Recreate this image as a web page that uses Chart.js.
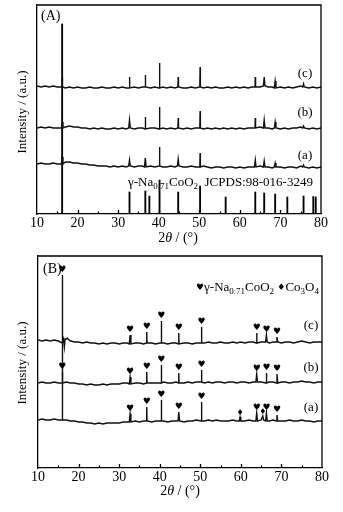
<!DOCTYPE html>
<html><head><meta charset="utf-8">
<script src="https://cdn.jsdelivr.net/npm/chart.js@4"></script>
<style>
html,body{margin:0;padding:0;background:#fff;}
#wrap{position:relative;width:343px;height:512px;overflow:hidden;background:#fff;}
canvas{position:absolute;left:0;}
#ca{top:0;}
#cb{top:248px;}
</style></head><body>
<div id="wrap"><canvas id="ca" width="343" height="248"></canvas><canvas id="cb" width="343" height="264"></canvas></div>
<script>
// ---------- shared x samples (2θ, degrees) ----------
const xSamples = [10,11,12,13,14,15,16,17,18,19,20,21,22,23,24,25,26,27,28,29,30,31,32,33,34,35,36,37,38,39,40,41,42,43,44,45,46,47,48,49,50,51,52,53,54,55,56,57,58,59,60,61,62,63,64,65,66,67,68,69,70,71,72,73,74,75,76,77,78,79,80];
const xTickLabels = [10,20,30,40,50,60,70,80];

// ---------- Panel (A) ----------
const baseAc = [128,127,128,127,128,127,127,126,127,126, 127,126,126,127,126,126,127,126,126,127, 126,127,126,126,127,126,127,127,126,127, 126,127,126,127,126,127,126,126,127,126, 127,126,127,126,127,126,126,127,126,127, 126,127,126,127,127,127,128,127,127,126, 127,126,127,126,127,128,127,126,127,126, 127];
const baseAb = [86,87,86,87,86,86,86,87,88,87, 87,86,86,85,86,85,86,85,85,86, 85,86,85,86,85,86,86,85,86,86, 85,86,85,86,85,86,85,86,85,86, 86,85,86,85,86,85,86,85,86,85, 86,85,86,86,86,87,86,86,85,86, 85,86,85,86,86,87,86,85,86,85, 86];
const baseAa = [50,51,50,50,51,50,50,52,52,51, 51,50,50,49,49,48,48,48,47,48, 47,48,47,48,47,48,48,47,48,47, 48,47,47,48,47,48,47,47,48,47, 47,48,47,46,47,47,46,47,47,46, 47,46,47,47,47,48,47,47,46,47, 47,46,47,47,46,48,47,46,47,46, 47];
const peakPosA = [16.2, 32.8, 36.7, 40.2, 44.8, 50.2, 63.8, 66.0, 68.7, 75.7];
const peakTopAc = [137, 137, 139, 151, 137, 147, 137, 137, 133, 130];
const peakTopAb = [92, 94, 97, 107, 96, 103, 96, 94, 92, 88];
const peakTopAa = [57, 54, 56, 67, 55, 61, 54, 53, 51, 49];
// reference pattern γ-Na0.71CoO2 (JCPDS 98-016-3249)
const stickPos = [16.2, 32.8, 36.7, 37.7, 40.2, 44.8, 50.2, 56.5, 63.8, 66.0, 68.7, 71.7, 75.7, 78.1, 78.7];
const stickH   = [190, 22, 23, 18, 34, 22, 28, 17, 22, 21, 20, 17, 18, 17.5, 17];

// ---------- Panel (B) ----------
const baseBc = [128,127,128,127,128,127,125,129,127,126, 126,125,126,125,125,124,125,124,125,125, 124,125,125,124,125,125,124,125,125,124, 125,125,124,125,125,124,125,125,124,125, 125,125,126,125,125,126,125,125,126,125, 126,125,126,126,125,126,126,125,126,126, 125,126,126,125,126,127,126,125,126,126, 126];
const baseBb = [85,86,85,85,86,85,85,86,85,85, 84,84,83,84,83,83,84,83,84,84, 84,85,85,84,85,85,84,85,85,85, 85,86,85,85,86,85,85,86,85,86, 86,85,86,85,86,86,85,86,86,85, 86,86,85,86,86,86,85,86,86,85, 86,86,85,86,86,87,86,86,85,86, 86];
const baseBa = [48,49,48,48,49,48,48,48,47,47, 46,46,45,45,44,45,44,45,45,45, 45,46,46,46,47,46,47,47,46,47, 47,47,46,47,47,47,46,47,47,48, 47,47,48,47,48,47,47,47,48,47, 47,47,48,47,47,48,47,47,48,47, 47,47,48,47,47,48,47,47,46,47, 47];
const peakPosBc = [16.5, 17.2, 32.7, 36.8, 40.4, 44.7, 50.3, 63.9, 66.3, 68.9];
const peakTopBc = [121, 130, 133, 136, 147, 135, 141, 135, 133, 131];
const phaseBc   = ['', '', 'h','h','h','h','h','h','h','h'];
const peakPosBb = [16.0, 32.7, 36.8, 40.4, 44.7, 50.3, 63.9, 66.3, 68.9];
const peakTopBb = [96, 91, 96, 103, 95, 98, 94, 95, 94];
const phaseBb   = ['h','h','h','h','h','h','h','h','h'];
const peakPosBa = [16.0, 32.7, 36.8, 40.4, 44.7, 50.3, 59.8, 63.9, 65.4, 66.3, 68.9];
const peakTopBa = [193, 54, 61, 68, 56, 66, 51, 55, 52, 55, 53];
const phaseBa   = ['h','h','h','h','h','h','d','h','d','h','h'];

const SERIF = '"Liberation Serif", "Times New Roman", serif';

function buildTrace(base, pos, top){
  const pts = [];
  xSamples.forEach((x,i)=>{ if(!pos.some(p=>Math.abs(p-x)<0.35)) pts.push({x:x, y:base[i]}); });
  pos.forEach((p,k)=>{
    const foot = base[Math.round(p)-10];
    const h = Math.abs(top[k]-foot) < 10 ? 0.2 : 0.07;
    pts.push({x:p-h, y:foot},{x:p, y:top[k]},{x:p+h, y:foot});
  });
  pts.sort((a,b)=>a.x-b.x);
  return pts;
}

function rich(ctx, parts, x, y, size, draw){
  let cx = x;
  parts.forEach(([t,k])=>{
    let f = size+'px '+SERIF, dy = 0;
    if(k==='sub'){ f = Math.round(size*0.68)+'px '+SERIF; dy = size*0.3; }
    if(k==='i'){ f = 'italic '+size+'px '+SERIF; }
    if(k==='sym'){ f = Math.round(size*0.72)+'px "DejaVu Sans"'; }
    ctx.font = f;
    if(draw) ctx.fillText(t, cx, y+dy);
    cx += ctx.measureText(t).width;
  });
  return cx - x;
}
function richCenter(ctx, parts, cx, y, size){
  const w = rich(ctx, parts, 0, 0, size, false);
  rich(ctx, parts, cx - w/2, y, size, true);
}

function frame(chart){
  const {ctx, chartArea:a, scales:{x}} = chart;
  ctx.save();
  ctx.strokeStyle = '#000'; ctx.lineWidth = 1.3;
  ctx.beginPath();
  ctx.moveTo(a.left, a.top); ctx.lineTo(a.right, a.top); ctx.lineTo(a.right, a.bottom);
  for(let v=15; v<80; v+=5){
    const px = Math.round(x.getPixelForValue(v)) + 0.5;
    const len = (v%10===0) ? 4 : 2.5;
    ctx.moveTo(px, a.bottom); ctx.lineTo(px, a.bottom - len);
  }
  ctx.stroke();
  ctx.restore();
}

function axisTexts(chart, yTitleCy, xTitleCx, xTitleY){
  const ctx = chart.ctx;
  ctx.save();
  ctx.fillStyle = '#000'; ctx.textBaseline = 'middle';
  richCenter(ctx, [['2','n'],['θ','i'],[' / (°)','n']], xTitleCx, xTitleY, 14);
  ctx.translate(23, yTitleCy); ctx.rotate(-Math.PI/2);
  ctx.font = '13px '+SERIF; ctx.textAlign = 'center';
  ctx.fillText('Intensity / (a.u.)', 0, 0);
  ctx.restore();
}

function makeChart(id, datasets, ymax, padTop, padRight, axisW, axisH, deco){
  return new Chart(document.getElementById(id), {
    type:'line',
    data:{datasets:datasets},
    options:{
      responsive:false, animation:false, devicePixelRatio:1,
      layout:{padding:{left:0, right:padRight, top:padTop, bottom:0}},
      plugins:{legend:{display:false}, tooltip:{enabled:false}},
      elements:{point:{radius:0}, line:{tension:0}},
      scales:{
        x:{type:'linear', min:10, max:80, offset:false,
           afterBuildTicks:s=>{ s.ticks = xTickLabels.map(v=>({value:v})); },
           ticks:{color:'#000', font:{family:SERIF, size:14}, padding:1, maxRotation:0, autoSkip:false},
           grid:{display:false, drawTicks:false},
           border:{display:true, color:'#000', width:1.3},
           afterFit:s=>{ s.height = axisH; }},
        y:{min:0, max:ymax, ticks:{display:false},
           grid:{display:false, drawTicks:false},
           border:{display:true, color:'#000', width:1.3},
           afterFit:s=>{ s.width = axisW; }}
      }
    },
    plugins:[{id:'deco', afterDraw:deco}]
  });
}

const lineStyle = {borderColor:'#111', borderWidth:1.4, pointRadius:0, fill:false};

// ---------- Chart A ----------
makeChart('ca', [
  Object.assign({data:buildTrace(baseAc, peakPosA, peakTopAc)}, lineStyle),
  Object.assign({data:buildTrace(baseAb, peakPosA, peakTopAb)}, lineStyle),
  Object.assign({data:buildTrace(baseAa, peakPosA, peakTopAa)}, lineStyle),
  {type:'bar', data:stickPos.map((p,i)=>({x:p, y:stickH[i]})), backgroundColor:'#000', barThickness:1.2, grouped:false}
], 209, 5, 22, 37, 34, function(chart){
  frame(chart);
  const ctx = chart.ctx;
  ctx.save(); ctx.fillStyle = '#000'; ctx.textBaseline = 'middle';
  ctx.font = '14px '+SERIF; ctx.fillText('(A)', 41, 16);
  ctx.font = '13px '+SERIF; ctx.textAlign = 'center';
  ctx.fillText('(c)', 305, 74); ctx.fillText('(b)', 305, 113); ctx.fillText('(a)', 305, 156);
  ctx.textAlign = 'left';
  rich(ctx, [['γ-Na','n'],['0.71','sub'],['CoO','n'],['2','sub'],['  JCPDS:98-016-3249','n']], 128, 183, 13, true);
  ctx.restore();
  axisTexts(chart, 112, 178, 238);
});

// ---------- Chart B ----------
function markerPlugin(chart){
  frame(chart);
  const {ctx, scales:{x,y}} = chart;
  ctx.save(); ctx.fillStyle = '#000'; ctx.textBaseline = 'middle'; ctx.textAlign = 'center';
  [[peakPosBc,peakTopBc,phaseBc],[peakPosBb,peakTopBb,phaseBb],[peakPosBa,peakTopBa,phaseBa]].forEach(([pos,top,ph])=>{
    pos.forEach((p,k)=>{
      if(!ph[k]) return;
      const px = x.getPixelForValue(p), py = y.getPixelForValue(top[k]);
      if(ph[k]==='h'){ ctx.font = '9px "DejaVu Sans"'; ctx.fillText('♥', px, py-5); }
      else { ctx.font = '8px "DejaVu Sans"'; ctx.fillText('♦', px, py-4); }
    });
  });
  ctx.textAlign = 'left';
  ctx.font = '14px '+SERIF; ctx.fillText('(B)', 43, 21);
  ctx.font = '13px '+SERIF; ctx.textAlign = 'center';
  ctx.fillText('(c)', 311, 78); ctx.fillText('(b)', 311, 120); ctx.fillText('(a)', 311, 160);
  ctx.textAlign = 'left';
  rich(ctx, [['♥','sym'],['γ-Na','n'],['0.71','sub'],['CoO','n'],['2','sub'],[' ','n'],['♦','sym'],['Co','n'],['3','sub'],['O','n'],['4','sub']], 196, 40, 13, true);
  ctx.restore();
  axisTexts(chart, 115, 180, 243);
}
makeChart('cb', [
  Object.assign({data:buildTrace(baseBc, peakPosBc, peakTopBc)}, lineStyle),
  Object.assign({data:buildTrace(baseBb, peakPosBb, peakTopBb)}, lineStyle),
  Object.assign({data:buildTrace(baseBa, peakPosBa, peakTopBa)}, lineStyle)
], 212, 8, 21, 38, 44, markerPlugin);
</script>
</body></html>
